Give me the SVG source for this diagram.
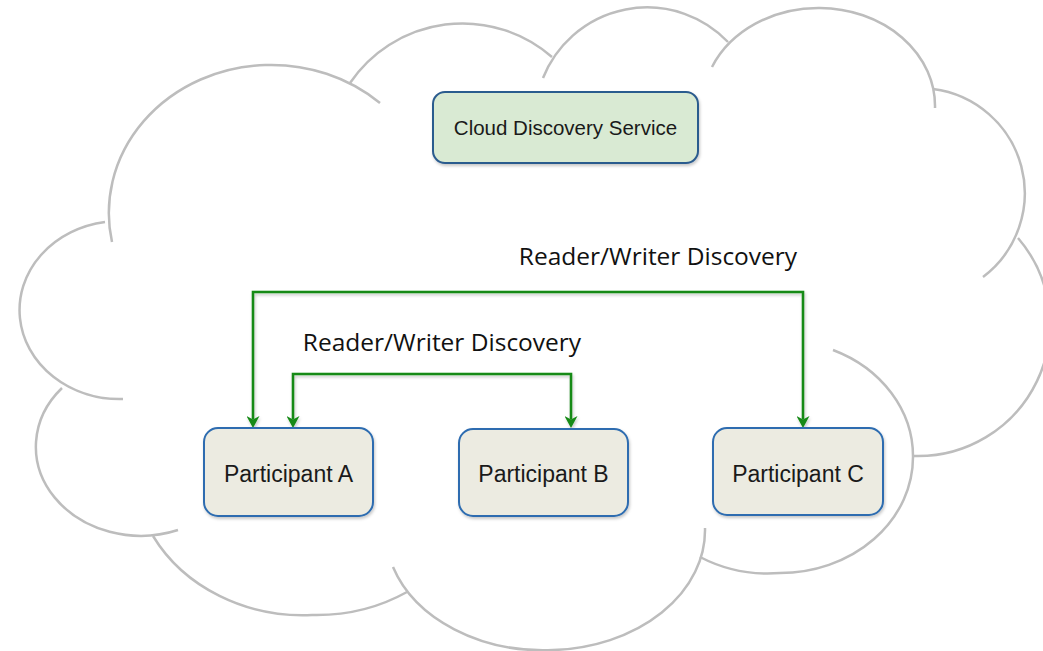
<svg xmlns="http://www.w3.org/2000/svg" width="1043" height="651" viewBox="0 0 1043 651">
<defs>
<style>
.cloud{fill:none;stroke:#bdbdbd;stroke-width:2.5}
.svc{fill:#d9ead3;stroke:#2c5b8e;stroke-width:2}
.part{fill:#ecebe1;stroke:#2d6cb0;stroke-width:2}
.lbl{font-family:"Liberation Sans",Arial,sans-serif;fill:#1a1a1a;text-anchor:middle}
.conn{fill:none;stroke:#168a16;stroke-width:2.6;marker-start:url(#arr);marker-end:url(#arr)}
.clbl{font-family:"Open Sans",sans-serif;font-size:24.5px;fill:#111;text-anchor:middle}
</style>
<marker id="arr" viewBox="0 0 12 13" refX="3.5" refY="6.5" markerWidth="12" markerHeight="13" markerUnits="userSpaceOnUse" orient="auto-start-reverse">
<path d="M0,0 L12,6.5 L0,13 L3.5,6.5 z" fill="#168a16"/>
</marker>
<filter id="sh" x="-10%" y="-10%" width="130%" height="140%">
<feDropShadow dx="1" dy="2" stdDeviation="1.5" flood-color="#000" flood-opacity="0.22"/>
</filter>
</defs>
<rect width="1043" height="651" fill="#fff"/>
<g id="cloud">
<path class="cloud" d="M112,242 A162,148 0 0 1 265,65 A162,148 0 0 1 380,103"/>
<path class="cloud" d="M350,83 A136,136 0 0 1 552,57"/>
<path class="cloud" d="M543,78 A112,112 0 0 1 728,42"/>
<path class="cloud" d="M712,67 A116,98 0 0 1 820,8 A116,98 0 0 1 935,108"/>
<path class="cloud" d="M933,89 A105,105 0 0 1 983,277"/>
<path class="cloud" d="M1018,238 A132,132 0 0 1 913,456"/>
<path class="cloud" d="M833,350 A133,116 0 0 1 913,457 A133,116 0 0 1 780,573 A133,116 0 0 1 700,557"/>
<path class="cloud" d="M705,528 A158,120 0 0 1 553,650 A158,120 0 0 1 393,567"/>
<path class="cloud" d="M407,592 A170,150 0 0 1 312,615 A170,150 0 0 1 153,536"/>
<path class="cloud" d="M178,530 A105,89 0 0 1 62,388"/>
<path class="cloud" d="M123,399 A100,89 0 0 1 105,222"/>
</g>
<g id="connectors" filter="url(#sh)">
<path class="conn" d="M253,419.5 V292 H803 V419.5"/>
<path class="conn" d="M293,419.5 V374 H571 V419.5"/>
</g>
<g id="labels">
<text class="clbl" x="658" y="265">Reader/Writer Discovery</text>
<text class="clbl" x="442" y="351">Reader/Writer Discovery</text>
</g>
<g id="cloud-discovery-service">
<rect class="svc" x="433" y="92" width="265" height="71" rx="12" filter="url(#sh)"/>
<text class="lbl" x="565.5" y="135" font-size="20.5">Cloud Discovery Service</text>
</g>
<g id="participant-a">
<rect class="part" x="204" y="428" width="169" height="88" rx="14" filter="url(#sh)"/>
<text class="lbl" x="288.5" y="482" font-size="23">Participant A</text>
</g>
<g id="participant-b">
<rect class="part" x="459" y="429" width="169" height="87" rx="14" filter="url(#sh)"/>
<text class="lbl" x="543.5" y="482" font-size="23">Participant B</text>
</g>
<g id="participant-c">
<rect class="part" x="713" y="428" width="170" height="87" rx="14" filter="url(#sh)"/>
<text class="lbl" x="798" y="482" font-size="23">Participant C</text>
</g>
</svg>
